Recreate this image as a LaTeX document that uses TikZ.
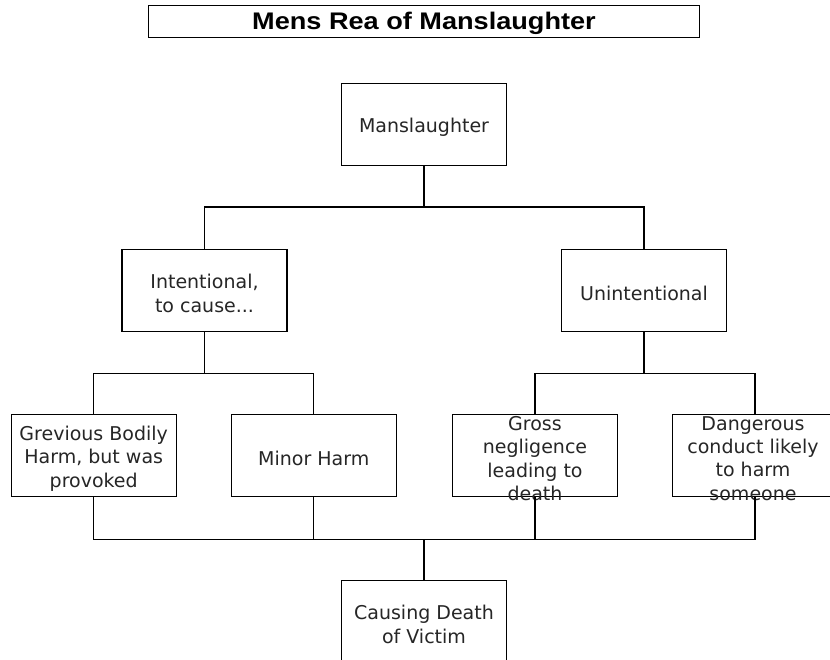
\documentclass[tikz,border=0pt]{standalone}
\usepackage{fontspec}
\setmainfont{DejaVu Sans}
\newfontfamily\titlefont{Liberation Sans}
\begin{document}
\begin{tikzpicture}[x=1pt,y=-1pt,
  box/.style={draw=black, line width=1.3pt, rectangle, minimum width=165pt, minimum height=82pt, inner sep=0pt},
  txt/.style={align=center, inner sep=0pt, yshift=-3pt, text=black!85, font=\fontsize{19}{23.3}\selectfont},
  ttl/.style={inner sep=0pt, yshift=-1.5pt, font=\titlefont\bfseries\fontsize{24}{28}\selectfont},
  link/.style={draw=black, line width=1.2pt}]
\useasboundingbox (0,0) rectangle (830,660);
\clip (0,0) rectangle (830,660);
\fill[white] (0,0) rectangle (830,660);
% title
\node[draw=black, line width=1.3pt, minimum width=551pt, minimum height=32pt, inner sep=0pt,
      label={[ttl]center:\scalebox{1.13}[1]{Mens Rea of Manslaughter}}] (title) at (424,21.7) {};
% boxes
\node[box, label={[txt]center:Manslaughter}] (mans) at (424,124.5) {};
\node[box, label={[txt]center:{Intentional,\\to cause...}}] (inten) at (204.5,290.3) {};
\node[box, label={[txt]center:Unintentional}] (uninten) at (644,290.3) {};
\node[box, label={[txt]center:{Grevious Bodily\\Harm, but was\\provoked}}] (gbh) at (93.7,455.5) {};
\node[box, label={[txt]center:Minor Harm}] (minor) at (313.7,455.5) {};
\node[box, label={[txt]center:{Gross\\negligence\\leading to\\death}}] (gross) at (535,455.5) {};
\node[box, label={[txt,xshift=-2pt]center:{Dangerous\\conduct likely\\to harm\\someone}}] (dang) at (755,455.5) {};
\node[box, label={[txt]center:{Causing Death\\of Victim}}] (death) at (424,621.5) {};
% junctions
\coordinate (j1) at (424,207);
\coordinate (j2) at (204.5,373.3);
\coordinate (j3) at (644,373.3);
\coordinate (j4) at (424,539.3);
% connectors
\draw[link] (mans.south) -- (j1);
\draw[link] (inten.north) |- (j1);
\draw[link] (uninten.north) |- (j1);
\draw[link] (inten.south) -- (j2);
\draw[link] (gbh.north) |- (j2);
\draw[link] (minor.north) |- (j2);
\draw[link] (uninten.south) -- (j3);
\draw[link] (gross.north) |- (j3);
\draw[link] (dang.north) |- (j3);
\draw[link] (gbh.south) |- (j4);
\draw[link] (minor.south) |- (j4);
\draw[link] (gross.south) |- (j4);
\draw[link] (dang.south) |- (j4);
\draw[link] (j4) -- (death.north);
\end{tikzpicture}
\end{document}
